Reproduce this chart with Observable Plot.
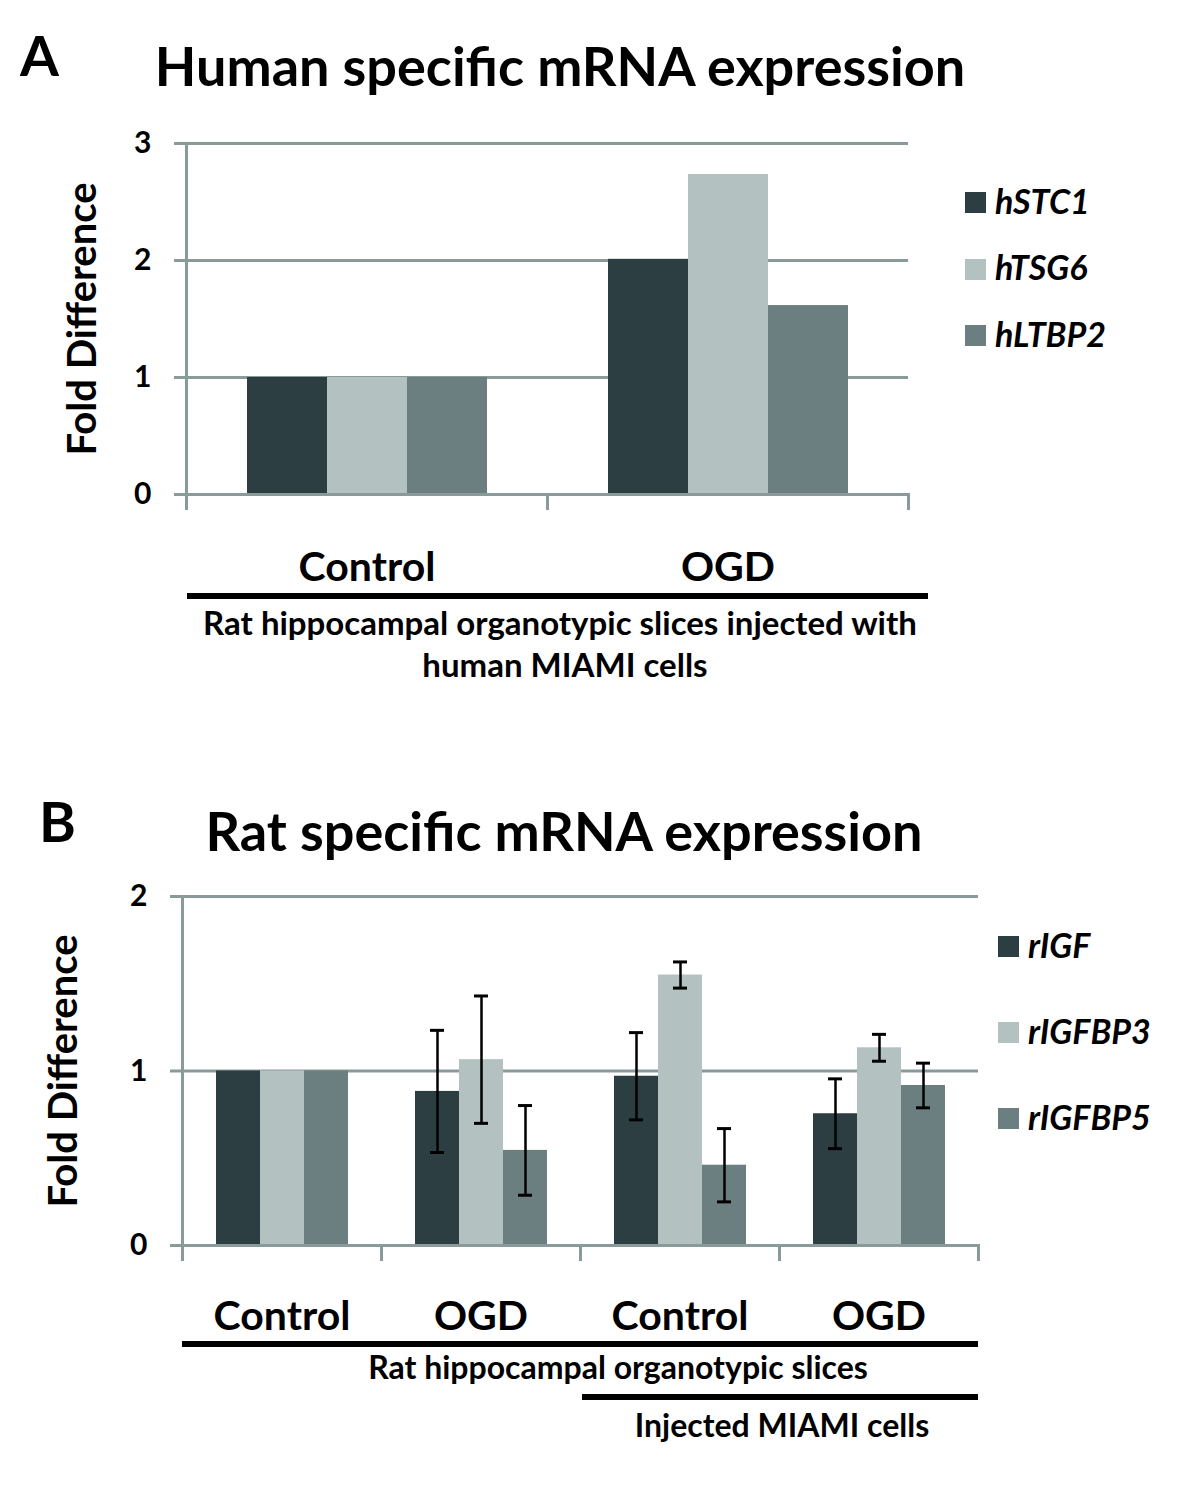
<!DOCTYPE html>
<html>
<head>
<meta charset="utf-8">
<script src="https://cdn.jsdelivr.net/npm/d3@7"></script>
<script src="https://cdn.jsdelivr.net/npm/@observablehq/plot@0.6"></script>
<style>
  html, body { margin: 0; padding: 0; background: #ffffff; }
  #root { position: relative; width: 1200px; height: 1498px; background: #ffffff; overflow: hidden; font-family: Lato, "Open Sans", sans-serif; color: #000; }
  #root svg { position: absolute; left: 0; }
  .lbl { position: absolute; white-space: nowrap; line-height: 1; font-weight: bold; }
  .bar { position: absolute; background: #000; }
  .sw { position: absolute; }
</style>
</head>
<body>
<div id="root"></div>
<script>
// ---------- Data ----------
const seriesA = ["hSTC1", "hTSG6", "hLTBP2"];
const groupsA = ["Control", "OGD"];
const hSTC1 = [1.0, 2.01];
const hTSG6 = [1.0, 2.735];
const hLTBP2 = [1.0, 1.615];
const ticksA = [0, 1, 2, 3];

const seriesB = ["rIGF", "rIGFBP3", "rIGFBP5"];
const groupsB = ["Control", "OGD", "Control", "OGD"];
const rIGF = [1.0, 0.883, 0.97, 0.755];
const rIGF_err = [null, 0.35, 0.25, 0.20];
const rIGFBP3 = [1.0, 1.065, 1.55, 1.133];
const rIGFBP3_err = [null, 0.365, 0.075, 0.077];
const rIGFBP5 = [1.0, 0.545, 0.46, 0.917];
const rIGFBP5_err = [null, 0.257, 0.21, 0.128];
const ticksB = [0, 1, 2];

const colors = ["#2c3e42", "#b3c2c0", "#6c7f80"];
const gridColor = "#8a9a9a";

// ---------- Tables ----------
const valuesA = [hSTC1, hTSG6, hLTBP2];
const dataA = [];
groupsA.forEach((g, i) => seriesA.forEach((s, j) => dataA.push({group: g, series: s, value: valuesA[j][i]})));

const valuesB = [rIGF, rIGFBP3, rIGFBP5];
const errB = [rIGF_err, rIGFBP3_err, rIGFBP5_err];
const keysB = groupsB.map((g, i) => (i < 2 ? "Slices|" : "MIAMI|") + g);
const dataB = [];
keysB.forEach((k, i) => seriesB.forEach((s, j) => dataB.push({group: k, series: s, value: valuesB[j][i], err: errB[j][i]})));
const errDataB = dataB.filter(d => d.err != null);

const root = document.getElementById("root");

function panel({data, errData, groups, series, ticks, top, height, mt, mb, ml, mr, fxFormat, labelDx, tickPadding}) {
  const inner = height - mt - mb;
  const marks = [
    Plot.gridY(ticks, {stroke: gridColor, strokeOpacity: 1, strokeWidth: 3}),
    Plot.barY(data, {fx: "group", x: "series", y: "value", fill: "series"}),
    Plot.ruleY([0], {stroke: gridColor, strokeWidth: 3}),
    Plot.frame({anchor: "left", fx: groups[0], stroke: gridColor, strokeWidth: 3, insetBottom: -14}),
    Plot.frame({anchor: "left", stroke: gridColor, strokeWidth: 3, insetTop: inner, insetBottom: -14}),
    Plot.frame({anchor: "right", fx: groups[groups.length - 1], stroke: gridColor, strokeWidth: 3, insetTop: inner, insetBottom: -14}),
    Plot.axisY(ticks, {tickSize: 12, tickPadding: 23, stroke: gridColor, strokeWidth: 3, fill: "#000", fontSize: 30, fontWeight: "bold", label: null, tickFormat: d => String(d)}),
    Plot.axisFx({anchor: "bottom", tickSize: 0, tickPadding: tickPadding, fontSize: 41, fontWeight: "bold", fill: "#000", label: null, tickFormat: fxFormat}),
    Plot.text(["Fold Difference"], {fx: () => groups[0], text: d => d, frameAnchor: "left", textAnchor: "middle", lineAnchor: "middle", rotate: -90, dx: labelDx, fontSize: 40, fontWeight: "bold", fill: "#000"})
  ];
  if (errData) {
    marks.push(
      Plot.ruleX(errData, {fx: "group", x: "series", y1: d => d.value - d.err, y2: d => d.value + d.err, stroke: "#000", strokeWidth: 2.5}),
      Plot.tickY(errData, {fx: "group", x: "series", y: d => d.value - d.err, stroke: "#000", strokeWidth: 3, insetLeft: 15, insetRight: 15}),
      Plot.tickY(errData, {fx: "group", x: "series", y: d => d.value + d.err, stroke: "#000", strokeWidth: 3, insetLeft: 15, insetRight: 15})
    );
  }
  const svg = Plot.plot({
    width: 1200, height,
    marginTop: mt, marginBottom: mb, marginLeft: ml, marginRight: mr,
    style: {fontFamily: "Lato, 'Open Sans', sans-serif", fontWeight: "bold", background: "transparent", color: "#000"},
    fx: {domain: groups, padding: 0, label: null},
    x: {domain: series, paddingInner: 0, paddingOuter: 0.75, axis: null},
    y: {domain: [0, ticks[ticks.length - 1]], axis: null},
    color: {domain: series, range: colors},
    marks
  });
  svg.style.top = top + "px";
  root.append(svg);
}

panel({data: dataA, errData: null, groups: groupsA, series: seriesA, ticks: ticksA,
  top: 0, height: 700, mt: 143, mb: 206, ml: 185, mr: 292, fxFormat: d => d, labelDx: -103, tickPadding: 57});
panel({data: dataB, errData: errDataB, groups: keysB, series: seriesB, ticks: ticksB,
  top: 760, height: 738, mt: 136, mb: 253, ml: 182, mr: 222, fxFormat: d => d.split("|")[1], labelDx: -118, tickPadding: 55});

// ---------- Text and brackets ----------
function label(text, x, base, size, anchor = "middle", italic = false) {
  const d = document.createElement("div");
  d.className = "lbl";
  d.textContent = text;
  d.style.fontSize = size + "px";
  if (italic) d.style.fontStyle = "italic";
  d.style.left = x + "px";
  d.style.top = (base - 0.887 * size) + "px";
  d.style.transform = anchor === "middle" ? "translateX(-50%)" : anchor === "end" ? "translateX(-100%)" : "none";
  root.append(d);
}
function line(x1, x2, y, w = 6) {
  const d = document.createElement("div");
  d.className = "bar";
  d.style.left = x1 + "px"; d.style.width = (x2 - x1) + "px";
  d.style.top = (y - w / 2) + "px"; d.style.height = w + "px";
  root.append(d);
}
function legend(series, x, top, gap) {
  series.forEach((s, i) => {
    const sw = document.createElement("div");
    sw.className = "sw";
    sw.style.cssText = `left:${x}px;top:${top + i * gap}px;width:21px;height:21px;background:${colors[i]}`;
    root.append(sw);
    label(s, x + 30, top + i * gap + 22, 34, "start", true);
  });
}

label("A", 20, 77, 56, "start");
label("Human specific mRNA expression", 560, 87, 54);
line(187, 928, 596);
label("Rat hippocampal organotypic slices injected with", 560, 635, 33);
label("human MIAMI cells", 565, 677, 33);
legend(seriesA, 965, 192, 66.5);

label("B", 39, 843, 56, "start");
label("Rat specific mRNA expression", 564, 852, 54);
line(182, 978, 1344);
label("Rat hippocampal organotypic slices", 618, 1379, 32);
line(582, 978, 1397);
label("Injected MIAMI cells", 782, 1437, 32);
legend(seriesB, 998, 936, 86);
</script>
</body>
</html>
